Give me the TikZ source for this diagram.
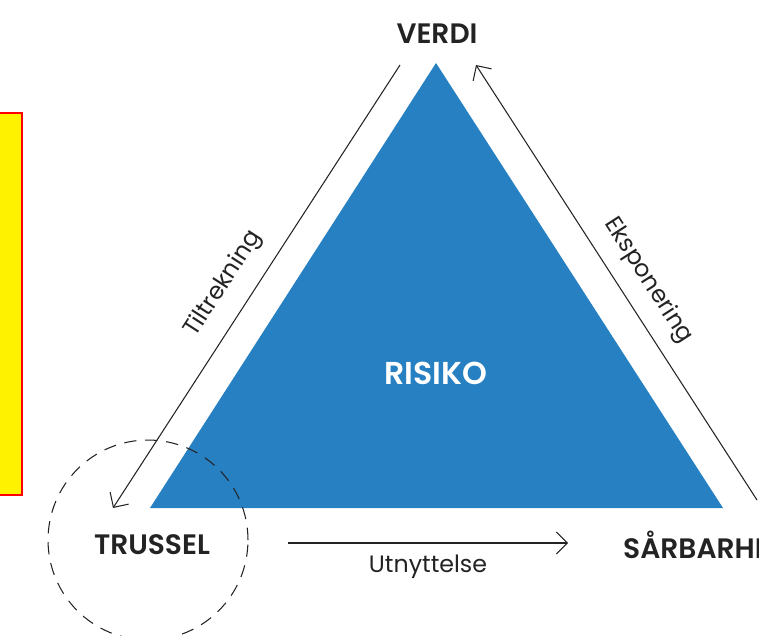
\documentclass[tikz,border=0pt]{standalone}
\usepackage{fontspec}
\setmainfont{Poppins}[BoldFont={Poppins SemiBold}]
\usetikzlibrary{arrows.meta}
\definecolor{risikoblue}{RGB}{38,128,194}
\definecolor{inkgrey}{RGB}{35,35,35}
\begin{document}
\begin{tikzpicture}[x=0.02cm,y=-0.02cm,>={Straight Barb[length=2.2mm,width=4.4mm]},
  corner/.style={font=\fontsize{16}{18}\selectfont\bfseries,text=inkgrey},
  flow/.style={font=\fontsize{13.5}{15}\selectfont,text=inkgrey}]
\useasboundingbox (0,0) rectangle (759,635);
\draw[red,fill=yellow,line width=0.7pt] (-5,113) rectangle (22,495);
\fill[risikoblue] (436,63)--(150,508)--(723,508)--cycle;
\node[text=white,font=\fontsize{18}{20}\selectfont\bfseries] (risiko) at (436,373) {RISIKO};
\node[corner] (verdi) at (437,34) {VERDI};
\node[corner] (trussel) at (152,545) {TRUSSEL};
\node[corner,anchor=west] (sarbarhet) at (617,545) {SÅRBARHET};
\draw[dashed,dash pattern=on 7pt off 5pt,inkgrey,line width=0.6pt] (trussel) ++(-4,-5) circle[radius=2cm];
\coordinate (tilA) at (400,65);
\coordinate (tilB) at (113,508);
\coordinate (ekspA) at (757,500);
\coordinate (ekspB) at (476,65);
\coordinate (utnA) at (288,543);
\coordinate (utnB) at (568,543);
\draw[<-,inkgrey,line width=0.6pt] (tilB)--(tilA) node[flow,pos=0.47,above=6pt,sloped] {Tiltrekning};
\draw[->,inkgrey,line width=0.6pt] (ekspA)--(ekspB) node[flow,pos=0.47,above=5pt,sloped] {Eksponering};
\draw[->,inkgrey,line width=0.6pt] (utnA)--(utnB) node[flow,midway,below=3pt] {Utnyttelse};
\end{tikzpicture}
\end{document}
